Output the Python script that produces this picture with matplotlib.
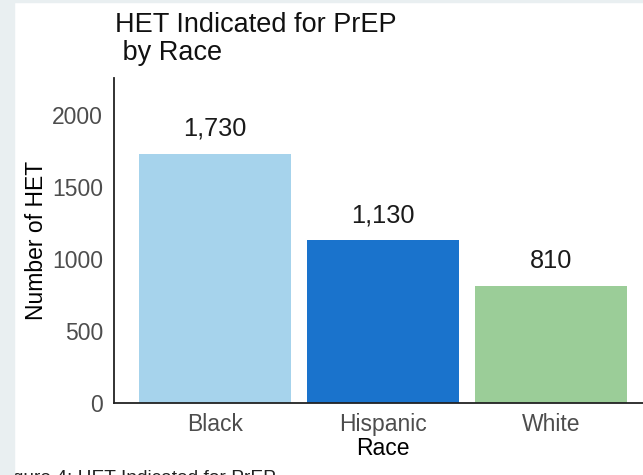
import matplotlib.pyplot as plt
from matplotlib.patches import Rectangle

races = ["Black", "Hispanic", "White"]
counts = [1730, 1130, 810]
count_labels = ["1,730", "1,130", "810"]
bar_colors = ["#A6D3EC", "#1A73CC", "#9BCD98"]
y_ticks = [0, 500, 1000, 1500, 2000]

plt.rcParams["font.family"] = ["Liberation Sans", "DejaVu Sans"]

W, H = 643, 475
fig = plt.figure(figsize=(W / 100, H / 100), dpi=100)
fig.patch.set_facecolor("white")

# axes runs off the right edge like the screenshot
ax = fig.add_axes([114 / W, 72 / H, (652 - 114) / W, (403 - 78) / H])
x = range(len(races))
ax.bar(x, counts, width=0.905, color=bar_colors)
ax.set_xlim(-0.6, 2.6)
ax.set_ylim(0, 2257)

for i, (v, lab) in enumerate(zip(counts, count_labels)):
    ax.annotate(lab, (i, v), xytext=(0, 9.5), textcoords="offset points",
                ha="center", va="bottom", fontsize=18.3, color="#1a1a1a")

ax.set_xticks(list(x))
ax.set_xticklabels(races)
ax.set_yticks(y_ticks)
ax.tick_params(length=0, labelsize=16.5, labelcolor="#4D4D4D")
ax.tick_params(axis="x", pad=7)
ax.tick_params(axis="y", pad=8)
for s in ["top", "right"]:
    ax.spines[s].set_visible(False)
for s in ["left", "bottom"]:
    ax.spines[s].set_linewidth(1.3)
    ax.spines[s].set_color("#222222")

ax.set_xlabel("Race", fontsize=16.5, labelpad=1)
ax.set_ylabel("Number of HET", fontsize=16.5, labelpad=3)

fig.text(115 / W, 1 - 12 / H, "HET Indicated for PrEP\n by Race", ha="left", va="top",
         fontsize=19.5, color="#111111", linespacing=1.12)

# cut-off caption under the screenshot
fig.text(-3 / W, -8 / H, "Figure 4: HET Indicated for PrEP", ha="left", va="baseline",
         fontsize=13.8, color="#222222")

fig.patches.append(Rectangle((0, 0), 14 / W, 1, transform=fig.transFigure,
                             color="#E9EFF1", zorder=10))
fig.patches.append(Rectangle((0, 1 - 2 / H), 1, 2 / H, transform=fig.transFigure,
                             color="#E9EFF1", zorder=10))

fig.savefig("out.png", dpi=100)
